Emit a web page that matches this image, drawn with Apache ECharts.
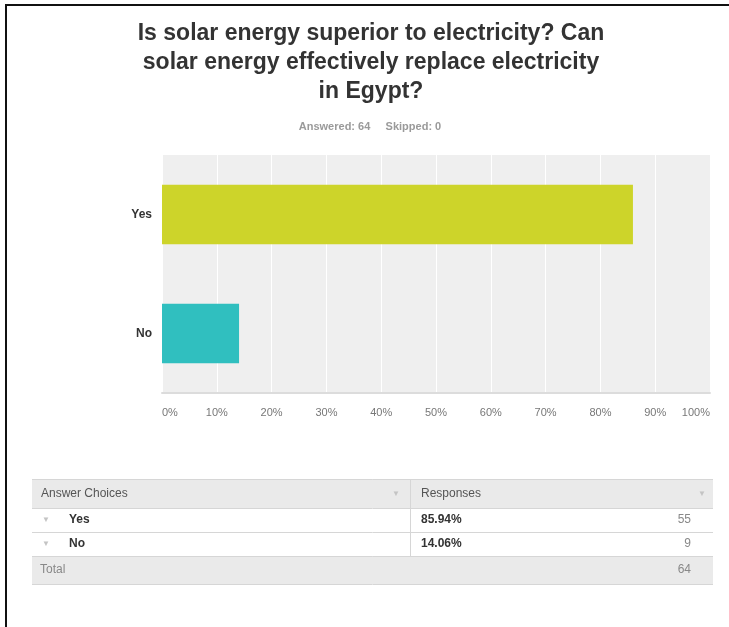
<!DOCTYPE html>
<html>
<head>
<meta charset="utf-8">
<script src="https://cdn.jsdelivr.net/npm/echarts@6/dist/echarts.min.js"></script>
<style>
html,body{margin:0;padding:0;background:#fff;}
#c{width:729px;height:627px;}
</style>
</head>
<body>
<div id="c"></div>
<script>
const titleLines = ['Is solar energy superior to electricity? Can', 'solar energy effectively replace electricity', 'in Egypt?'];
const subtitleText = 'Answered: 64     Skipped: 0';
const categories = ['Yes', 'No'];
const percents = [85.94, 14.06];
const counts = [55, 9];
const total = 64;
const barColors = ['#cdd42a', '#30bfbf'];
const tickLabels = ['0%','10%','20%','30%','40%','50%','60%','70%','80%','90%','100%'];
const tableHeaders = ['Answer Choices', 'Responses'];
const totalLabel = 'Total';

const chart = echarts.init(document.getElementById('c'), null, {renderer: 'canvas'});
const FONT = 'Liberation Sans, Arial, Helvetica, sans-serif';

// table geometry
const tL = 32, tR = 713, tDiv = 410;
const rowsY = [479, 508, 532, 556, 584];
const g = [];
// frame (top and left edge)
g.push({type:'line', shape:{x1:5,y1:5,x2:729,y2:5}, style:{stroke:'#111', lineWidth:2}});
g.push({type:'line', shape:{x1:6,y1:4,x2:6,y2:627}, style:{stroke:'#111', lineWidth:2}});
// title
titleLines.forEach((t, i) => {
  g.push({type:'text', x:371, y:34 + i*29, style:{text:t, fill:'#333', font:'bold 23px ' + FONT, align:'center', verticalAlign:'middle'}});
});
g.push({type:'text', x:370, y:127, style:{text:subtitleText, fill:'#9a9a9a', font:'bold 11px ' + FONT, align:'center', verticalAlign:'middle'}});
// header row and total row fills
g.push({type:'rect', shape:{x:tL, y:rowsY[0], width:tR-tL, height:rowsY[1]-rowsY[0]}, style:{fill:'#eaeaea'}});
g.push({type:'rect', shape:{x:tL, y:rowsY[3], width:tR-tL, height:rowsY[4]-rowsY[3]}, style:{fill:'#eaeaea'}});
// lines
for (let i = 0; i < rowsY.length; i++) {
  g.push({type:'line', shape:{x1:tL,y1:rowsY[i]+0.5,x2:tR,y2:rowsY[i]+0.5}, style:{stroke:'#d6d6d6', lineWidth:1}});
}
g.push({type:'line', shape:{x1:tDiv+0.5,y1:rowsY[0],x2:tDiv+0.5,y2:rowsY[3]}, style:{stroke:'#d6d6d6', lineWidth:1}});
const midY = i => (rowsY[i] + rowsY[i+1]) / 2;
g.push({type:'text', x:41, y:midY(0), style:{text:tableHeaders[0], fill:'#555', font:'12px ' + FONT, verticalAlign:'middle'}});
g.push({type:'text', x:396, y:midY(0), style:{text:'▼', fill:'#c4c4c4', font:'8px ' + FONT, align:'center', verticalAlign:'middle'}});
g.push({type:'text', x:421, y:midY(0), style:{text:tableHeaders[1], fill:'#555', font:'12px ' + FONT, verticalAlign:'middle'}});
g.push({type:'text', x:702, y:midY(0), style:{text:'▼', fill:'#c4c4c4', font:'8px ' + FONT, align:'center', verticalAlign:'middle'}});
categories.forEach((c, i) => {
  const y = midY(i+1);
  g.push({type:'text', x:46, y:y, style:{text:'▼', fill:'#c4c4c4', font:'8px ' + FONT, align:'center', verticalAlign:'middle'}});
  g.push({type:'text', x:69, y:y, style:{text:c, fill:'#333', font:'bold 12px ' + FONT, verticalAlign:'middle'}});
  g.push({type:'text', x:421, y:y, style:{text:percents[i].toFixed(2) + '%', fill:'#333', font:'bold 12px ' + FONT, verticalAlign:'middle'}});
  g.push({type:'text', x:691, y:y, style:{text:String(counts[i]), fill:'#888', font:'12px ' + FONT, align:'right', verticalAlign:'middle'}});
});
g.push({type:'text', x:40, y:midY(3), style:{text:totalLabel, fill:'#888', font:'12px ' + FONT, verticalAlign:'middle'}});
g.push({type:'text', x:691, y:midY(3), style:{text:String(total), fill:'#888', font:'12px ' + FONT, align:'right', verticalAlign:'middle'}});

chart.setOption({
  animation: false,
  backgroundColor: '#fff',
  grid: {left:162, right:19, top:155, bottom:234, show:true, backgroundColor:'#efefef', borderWidth:0},
  xAxis: {
    type:'value', min:0, max:100, interval:10,
    axisLine:{show:true, lineStyle:{color:'#dcdcdc', width:2}},
    axisTick:{show:false},
    splitLine:{show:true, lineStyle:{color:'#ffffff', width:1}},
    axisLabel:{
      color:'#777', fontSize:11, fontFamily:FONT, margin:14,
      alignMinLabel:'left', alignMaxLabel:'right',
      formatter: (v) => tickLabels[Math.round(v/10)]
    }
  },
  yAxis: {
    type:'category', inverse:true, data:categories,
    axisLine:{show:false}, axisTick:{show:false}, splitLine:{show:false},
    axisLabel:{color:'#333', fontSize:12, fontWeight:'bold', fontFamily:FONT, margin:10}
  },
  series: [{
    type:'bar', barWidth:'50%',
    data: percents.map((v, i) => ({value:v, itemStyle:{color:barColors[i]}}))
  }],
  graphic: g
});
</script>
</body>
</html>
